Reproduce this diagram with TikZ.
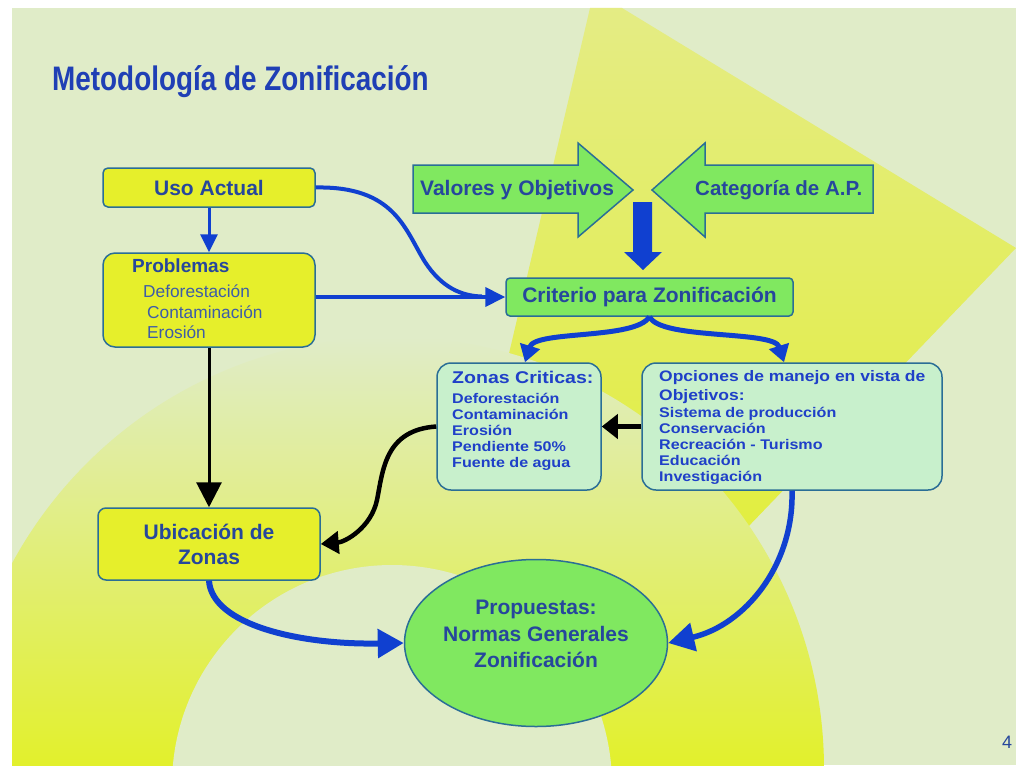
\documentclass[tikz,border=0pt]{standalone}
\usepackage{fontspec}
\setmainfont{Liberation Sans}
\newfontfamily\widefont[FakeStretch=1.15]{Liberation Sans}
\newfontfamily\narrowfont[FakeStretch=0.82]{Liberation Sans}
\usetikzlibrary{arrows.meta}
\usetikzlibrary{shapes.geometric}
\usetikzlibrary{calc}

\definecolor{bgpale}{HTML}{E0ECC8}
\definecolor{wedgetop}{HTML}{E4EC84}
\definecolor{wedgebot}{HTML}{E2EE40}
\definecolor{ringmid}{HTML}{E2EE60}
\definecolor{ringyellow}{HTML}{E2F02C}
\definecolor{boxyellow}{HTML}{E6EF2B}
\definecolor{boxgreen}{HTML}{80E860}
\definecolor{boxmint}{HTML}{C8F0CC}
\definecolor{boxline}{HTML}{2A6E96}
\definecolor{txtblue}{HTML}{26479C}
\definecolor{txtsoft}{HTML}{3D5CA8}
\definecolor{listblue}{HTML}{1F40C8}
\definecolor{titleblue}{HTML}{1F3FB5}
\definecolor{arrowblue}{HTML}{1040D0}

\newcommand{\fsz}[2]{\fontsize{#1}{#2}\selectfont}

\tikzset{
  ybox/.style={draw=boxline, line width=1.5pt, fill=boxyellow, text=txtblue,
    font=\bfseries\fsz{21}{25}},
  gbox/.style={draw=boxline, line width=1.5pt, fill=boxgreen, text=txtblue,
    font=\bfseries\fsz{21}{25}},
  mbox/.style={draw=boxline, line width=1.5pt, fill=boxmint, rounded corners=14},
  txt/.style={anchor=base west, inner sep=0},
  listtxt/.style={txt, text=listblue, font=\widefont\bfseries\fsz{14}{16}},
  bluearrow/.style={draw=arrowblue, line width=4pt},
  blackarrow/.style={draw=black, line width=4.5pt}
}

\begin{document}
\begin{tikzpicture}[x=1pt,y=-1pt]
  \useasboundingbox (0,0) rectangle (1016,765);
  \fill[white] (0,0) rectangle (1016,765);
  % background of the slide
  \begin{scope}
    \clip (12,8) rectangle (1016,765);
    \fill[bgpale] (12,8) rectangle (1016,765);
    \shade[top color=wedgetop, bottom color=wedgebot]
      (590,8) -- (622,8) -- (1016,248) -- (745,530) -- (470,520) -- cycle;
    \begin{scope}
      \clip (392,769) circle[radius=432];
      \shade[top color=bgpale, middle color=ringmid, bottom color=ringyellow]
        (12,337) rectangle (1016,765);
    \end{scope}
    \fill[bgpale] (392,785) circle[radius=220];
  \end{scope}

  \node[txt, text=titleblue, font=\narrowfont\bfseries\fsz{34}{38}] (title) at (52,91) {Metodología de Zonificación};

  % left column
  \node[ybox, minimum width=212, minimum height=39, rounded corners=5] (uso) at (209,187.5) {Uso Actual};
  \node[ybox, minimum width=212, minimum height=94, rounded corners=12] (prob) at (209,300) {};
  \node[txt, text=txtblue, font=\bfseries\fsz{19}{22}] (probt) at (132,272) {Problemas};
  \foreach \t/\x/\y [count=\i] in {Deforestación/143/297, Contaminación/147/318, Erosión/147/338}
    \node[txt, text=txtsoft, font=\fsz{17.3}{20}] (p\i) at (\x,\y) {\t};
  \node[ybox, minimum width=222, minimum height=72, rounded corners=8, align=center] (ubi) at (209,544) {Ubicación de\\Zonas};

  % big arrows
  \filldraw[fill=boxgreen, draw=boxline, line width=1.5pt]
    (413,165) -- (578,165) -- (578,143) -- (633,190) -- (578,237) -- (578,213) -- (413,213) -- cycle;
  \filldraw[fill=boxgreen, draw=boxline, line width=1.5pt]
    (873,165) -- (705,165) -- (705,143) -- (652,190) -- (705,237) -- (705,213) -- (873,213) -- cycle;
  \node[txt, text=txtblue, font=\bfseries\fsz{21}{25}] (val) at (420,195) {Valores y Objetivos};
  \node[txt, text=txtblue, font=\bfseries\fsz{20.5}{25}] (cat) at (695,195) {Categoría de A.P.};
  \fill[arrowblue] (633,202) -- (652,202) -- (652,252) -- (662,252) -- (643,270) -- (624,252) -- (633,252) -- cycle;

  \node[gbox, minimum width=287, minimum height=38, rounded corners=4] (crit) at (649.5,297) {Criterio para Zonificación};

  % middle boxes
  \node[mbox, minimum width=164, minimum height=127] (zon) at (519,426.5) {};
  \node[txt, text=listblue, font=\widefont\bfseries\fsz{17}{20}] (zont) at (452,383) {Zonas Criticas:};
  \foreach \t [count=\i from 0] in {Deforestación, Contaminación, Erosión, Pendiente 50\%, Fuente de agua}
    \node[listtxt] (z\i) at (452,{403+16*\i}) {\t};

  \node[mbox, minimum width=300, minimum height=127] (opc) at (792,426.5) {};
  \node[txt, text=listblue, font=\widefont\bfseries\fsz{15.2}{18}] (opct) at (659,381) {Opciones de manejo en vista de};
  \node[txt, text=listblue, font=\widefont\bfseries\fsz{15.2}{18}] (opco) at (659,400) {Objetivos:};
  \foreach \t [count=\i from 0] in {Sistema de producción, Conservación, Recreación - Turismo, Educación, Investigación}
    \node[listtxt] (o\i) at (659,{417+16*\i}) {\t};

  \node[ellipse, draw=boxline, line width=1.5pt, fill=boxgreen, minimum width=263, minimum height=167] (prop) at (536,643) {};
  \node[text=txtblue, font=\bfseries\fsz{21}{26.5}, align=center] (propt) at (536,634) {Propuestas:\\Normas Generales\\Zonificación};

  \node[txt, text=txtblue, font=\fsz{18}{20}] (pnum) at (1002,748) {4};

  % connectors
  \draw[bluearrow, line width=3pt, -{Triangle[length=18pt, width=17pt]}] (uso) -- (prob);
  \coordinate (merge) at (482,296.5);
  \draw[bluearrow] (uso.east) .. controls (395,186) and (405,230) .. (425,262)
    .. controls (442,288) and (462,296) .. (merge);
  \draw[bluearrow, -{Triangle[length=20pt, width=19pt]}] (prob.east |- crit) -- (crit.west);
  \draw[bluearrow, line width=5pt, -{Triangle[length=17pt, width=20pt]}]
    (crit.south) .. controls (635,340) and (535,330) .. ($(zon.north)+(6,0)$);
  \draw[bluearrow, line width=5pt, -{Triangle[length=17pt, width=20pt]}]
    (crit.south) .. controls (661,340) and (774,330) .. ($(opc.north)+(-8,0)$);
  \draw[blackarrow, -{Triangle[length=16pt, width=24pt]}] (opc.west) -- (zon.east);
  \draw[blackarrow, -{Triangle[length=18pt, width=22pt]}]
    (zon.west) .. controls (385,430) and (383,470) .. (377,500)
    .. controls (371,528) and (345,542) .. (ubi.east);
  \draw[blackarrow, line width=3pt, -{Triangle[length=25pt, width=25pt]}] (prob) -- (ubi);
  \draw[bluearrow, line width=6pt, -{Triangle[length=26pt, width=28pt]}]
    (ubi.south) .. controls (212,625) and (300,645) .. (prop.west);
  \draw[bluearrow, line width=5.5pt, -{Triangle[length=26pt, width=28pt]}]
    (opc.south) .. controls (794,565) and (745,625) .. (prop.east);
\end{tikzpicture}
\end{document}
